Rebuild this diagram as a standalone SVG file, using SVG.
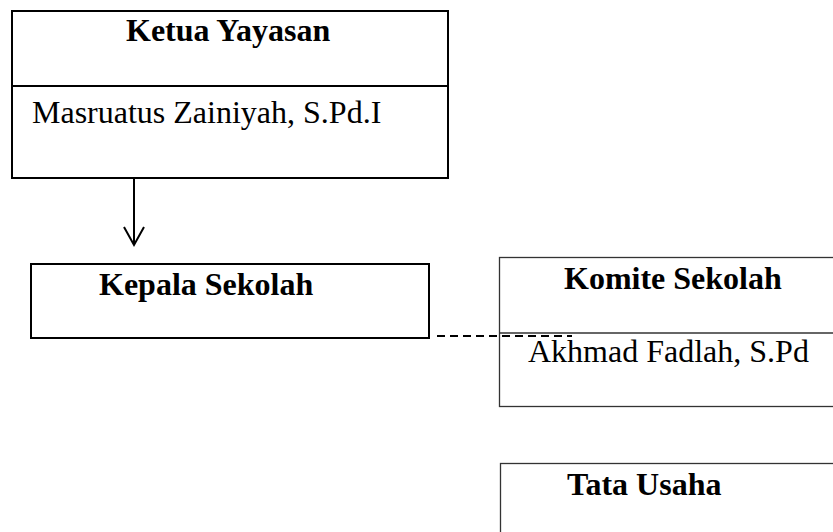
<svg xmlns="http://www.w3.org/2000/svg" width="833" height="532" viewBox="0 0 833 532">
<style>
.box{fill:#fff;stroke:#000;stroke-width:2}
.box2{fill:#fff;stroke:#333;stroke-width:1.3}
.t{font-family:"Liberation Serif","Times New Roman",serif;font-size:32px;fill:#000}
.b{font-weight:bold}
.conn{stroke:#000;stroke-width:2;fill:none}
</style>
<rect width="833" height="532" fill="#fff"/>
<g id="ketua">
<rect class="box" x="12" y="11" width="436" height="167"/>
<line class="conn" x1="12" y1="86" x2="448" y2="86"/>
<text class="t b" x="126" y="41">Ketua Yayasan</text>
<text class="t" x="32" y="123">Masruatus Zainiyah, S.Pd.I</text>
</g>
<g id="kepala">
<rect class="box" x="31" y="264" width="398" height="74"/>
<text class="t b" x="99" y="295">Kepala Sekolah</text>
</g>
<g id="komite">
<rect class="box2" x="499.5" y="257.5" width="340" height="149"/>
<line x1="499.5" y1="333" x2="833" y2="333" stroke="#333" stroke-width="1.3"/>
<text class="t b" x="564" y="289">Komite Sekolah</text>
<text class="t" x="528" y="362">Akhmad Fadlah, S.Pd</text>
</g>
<g id="tatausaha">
<rect class="box2" x="500.5" y="463.5" width="340" height="80"/>
<text class="t b" x="567" y="495">Tata Usaha</text>
</g>
<g id="connectors">
<line class="conn" x1="134" y1="178" x2="134" y2="244"/>
<polyline class="conn" points="124,227 134,245 144,227"/>
<line x1="437" y1="336" x2="572" y2="336" stroke="#000" stroke-width="2" stroke-dasharray="8,5"/>
</g>
</svg>
